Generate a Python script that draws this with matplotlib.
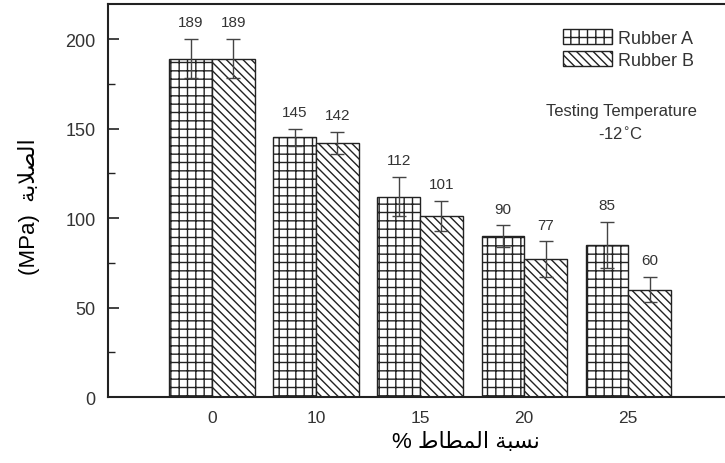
import numpy as np
import matplotlib
matplotlib.use('Agg')
import matplotlib.pyplot as plt

plt.rcParams['font.family'] = ['Liberation Sans', 'DejaVu Sans']
plt.rcParams['hatch.linewidth'] = 1.0

# data
categories = ['0', '10', '15', '20', '25']
rubber_a = [189, 145, 112, 90, 85]
rubber_b = [189, 142, 101, 77, 60]
err_a = [11, 5, 11, 6, 13]
err_b = [11, 6, 8.5, 10, 7]

# arabic labels in presentation forms, visual order (matplotlib has no shaping)
xlab = '% ' + '\uFEC1\uFE8E\uFEC4\uFEE4\uFEDF\uFE8D' + ' ' + '\uFE94\uFE92\uFEB4\uFEE7'
ylab = '(MPa)  ' + '\uFE94\uFE91\uFEFC\uFEBC\uFEDF\uFE8D'

ink = '#222222'
txt = '#333333'

fig = plt.figure(figsize=(7.25, 4.64), dpi=100)
ax = fig.add_axes([0.149, 0.142, 0.851, 0.847])

x = np.arange(len(categories))
w = 0.41
ax.bar(x - w / 2, rubber_a, w, color='white', edgecolor=ink, hatch='++',
       linewidth=1.0, label='Rubber A')
ax.bar(x + w / 2, rubber_b, w, color='white', edgecolor=ink, hatch='\\\\\\\\',
       linewidth=1.0, label='Rubber B')
ax.errorbar(x - w / 2, rubber_a, yerr=err_a, fmt='none', ecolor='#444444',
            elinewidth=1.0, capsize=5, capthick=1.0)
ax.errorbar(x + w / 2, rubber_b, yerr=err_b, fmt='none', ecolor='#444444',
            elinewidth=1.0, capsize=5, capthick=1.0)

for xi, v, e in zip(x - w / 2, rubber_a, err_a):
    ax.annotate(str(v), (xi, v + e), xytext=(0, 7), textcoords='offset points',
                ha='center', va='bottom', fontsize=11, color=txt)
for xi, v, e in zip(x + w / 2, rubber_b, err_b):
    ax.annotate(str(v), (xi, v + e), xytext=(0, 7), textcoords='offset points',
                ha='center', va='bottom', fontsize=11, color=txt)

ax.set_xlim(-1.0, 4.93)
ax.set_ylim(0, 219.5)
ax.set_xticks(x)
ax.set_xticklabels(categories, fontsize=12.5, color=txt)
ax.set_yticks([0, 50, 100, 150, 200])
ax.set_yticks([25, 75, 125, 175], minor=True)
ax.tick_params(axis='y', which='major', direction='in', length=8, width=1.2,
               colors=ink, labelcolor=txt, labelsize=13, pad=9)
ax.tick_params(axis='y', which='minor', direction='in', length=5, width=1.0,
               colors=ink)
ax.tick_params(axis='x', length=0, pad=9)

for s in ['left', 'top', 'bottom']:
    ax.spines[s].set_color(ink)
    ax.spines[s].set_linewidth(1.5)
ax.spines['right'].set_visible(False)

ax.set_xlabel(xlab, fontsize=16, color='black')
ax.xaxis.set_label_coords(0.58, -0.085)
ax.set_ylabel(ylab, fontsize=16, color='black')
ax.yaxis.set_label_coords(-0.11, 0.486)

leg = ax.legend(loc='upper left', bbox_to_anchor=(0.737, 0.936), frameon=False,
                fontsize=13, handlelength=2.75, handleheight=0.9,
                handletextpad=0.3, labelspacing=0.25, borderaxespad=0,
                borderpad=0)
for t in leg.get_texts():
    t.set_color(txt)

ax.text(3.93, 160, 'Testing Temperature', ha='center', va='center',
        fontsize=12, color=txt)
ax.text(3.93, 147.5, '-12$^{\\circ}$C', ha='center', va='center',
        fontsize=12, color=txt)

plt.savefig('out.png', dpi=100)
